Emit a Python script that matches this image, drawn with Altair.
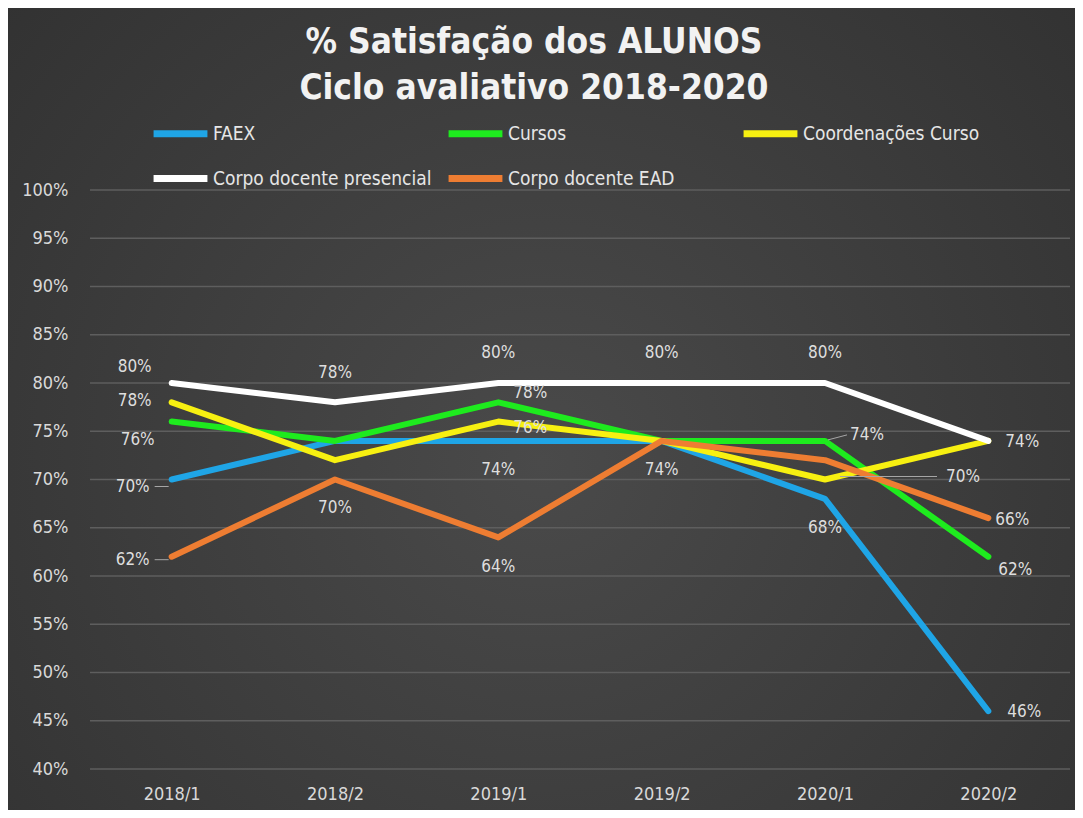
import json
import altair as alt
import pandas as pd

# ---------------- data ----------------
periods = ["2018/1", "2018/2", "2019/1", "2019/2", "2020/1", "2020/2"]
series_names = ["FAEX", "Cursos", "Coordenações Curso",
                "Corpo docente presencial", "Corpo docente EAD"]
faex = [70, 74, 74, 74, 68, 46]
cursos = [76, 74, 78, 74, 74, 62]
coordenacoes = [78, 72, 76, 74, 70, 74]
docente_presencial = [80, 78, 80, 80, 80, 74]
docente_ead = [62, 70, 64, 74, 72, 66]
y_ticks = [40, 45, 50, 55, 60, 65, 70, 75, 80, 85, 90, 95, 100]

series_values = [faex, cursos, coordenacoes, docente_presencial, docente_ead]
colors = ["#1FA5E6", "#1EEB1E", "#F7F011", "#FFFFFF", "#EE7D32"]

# which data labels are shown, with pixel offsets (styling only)
label_spec = [
    ("Corpo docente presencial", 0, -37, -16),
    ("Coordenações Curso", 0, -37, -1),
    ("Cursos", 0, -34, 18),
    ("FAEX", 0, -39, 7),
    ("Corpo docente EAD", 0, -39, 3),
    ("Corpo docente presencial", 1, 0, -29),
    ("Corpo docente EAD", 1, 0, 28),
    ("Corpo docente presencial", 2, 0, -30),
    ("Cursos", 2, 32, -9),
    ("Coordenações Curso", 2, 32, 6),
    ("FAEX", 2, 0, 29),
    ("Corpo docente EAD", 2, 0, 30),
    ("Corpo docente presencial", 3, 0, -30),
    ("FAEX", 3, 0, 29),
    ("Corpo docente presencial", 4, 0, -30),
    ("Cursos", 4, 42, -6),
    ("Coordenações Curso", 4, 138, -3),
    ("FAEX", 4, 0, 29),
    ("Corpo docente presencial", 5, 34, 1),
    ("Corpo docente EAD", 5, 24, 2),
    ("Cursos", 5, 27, 13),
    ("FAEX", 5, 36, 1),
]
# leader lines (series, period index, dx1, dy1, dx2, dy2) in pixels
leader_spec = [
    ("FAEX", 0, -17, 7, -3, 7),
    ("Corpo docente EAD", 0, -17, 3, -3, 3),
    ("Cursos", 4, 3, -1, 22, -6),
    ("Coordenações Curso", 4, 15, -3, 112, -3),
]

# ---------------- layout ----------------
W, H = 980, 579
PAD = {"left": 82, "right": 5, "top": 182, "bottom": 41}
Y_MIN, Y_MAX = 40, 100
STEP = W / len(periods)
PPU = H / (Y_MAX - Y_MIN)
FONT = "DejaVu Sans Condensed, Liberation Sans Narrow, sans-serif"

rows = []
for name, vals in zip(series_names, series_values):
    for i, v in enumerate(vals):
        rows.append({"serie": name, "idx": i, "periodo": periods[i], "valor": v})
df = pd.DataFrame(rows)

lookup = {(r["serie"], r["idx"]): r["valor"] for r in rows}
lab = pd.DataFrame([
    {"serie": s, "idx": i, "valor": lookup[(s, i)], "txt": f"{lookup[(s, i)]}%",
     "dx": dx, "dy": dy}
    for s, i, dx, dy in label_spec
])
lead = pd.DataFrame([
    {"serie": s, "idx": i, "valor": lookup[(s, i)],
     "dx1": a, "dy1": b, "dx2": c, "dy2": d}
    for s, i, a, b, c, d in leader_spec
])

x_scale = alt.Scale(domain=[-0.5, len(periods) - 0.5], nice=False, zero=False)
y_scale = alt.Scale(domain=[Y_MIN, Y_MAX], nice=False, zero=False)
color_scale = alt.Scale(domain=series_names, range=colors)

label_expr = json.dumps(periods) + "[datum.value]"

x_axis = alt.Axis(values=list(range(len(periods))), labelExpr=label_expr,
                  domain=False, ticks=False, grid=False, title=None,
                  labelFont=FONT, labelFontSize=18, labelColor="#d9d9d9",
                  labelPadding=16, zindex=1)
y_axis = alt.Axis(values=y_ticks, labelExpr="datum.value + '%'",
                  domain=False, ticks=False, grid=False, title=None,
                  labelFont=FONT, labelFontSize=18, labelColor="#d9d9d9",
                  labelPadding=22, zindex=1)

# background with radial gradient
bg = alt.Chart(pd.DataFrame({"k": [0]})).mark_rect(
    fill=alt.RadialGradient(
        gradient="radial",
        stops=[alt.GradientStop(color="#4a4a4a", offset=0),
               alt.GradientStop(color="#2f2f2f", offset=1)],
        x1=0.5, y1=0.55, x2=0.5, y2=0.55, r1=0, r2=0.75),
).encode(
    x=alt.value(-PAD["left"]), x2=alt.value(W + PAD["right"]),
    y=alt.value(-PAD["top"]), y2=alt.value(H + PAD["bottom"]),
)

grid = alt.Chart(pd.DataFrame({"t": y_ticks})).mark_rule(
    color="#5e5e5e", strokeWidth=1.5
).encode(
    x=alt.value(0), x2=alt.value(W),
    y=alt.Y("t:Q", scale=y_scale, axis=y_axis),
)

line_layers = []
for name in series_names:
    line_layers.append(
        alt.Chart(df).transform_filter(alt.datum.serie == name).mark_line(
            strokeWidth=6, strokeCap="round", strokeJoin="round"
        ).encode(
            x=alt.X("idx:Q", scale=x_scale, axis=x_axis),
            y=alt.Y("valor:Q", scale=y_scale, axis=y_axis),
            color=alt.Color(
                "serie:N", scale=color_scale,
                legend=alt.Legend(
                    title=None, orient="none", legendX=60, legendY=-87,
                    direction="horizontal", padding=0,
                    columns=3, gridAlign="all", columnPadding=2, rowPadding=0,
                    symbolType="stroke", symbolStrokeWidth=7, symbolSize=2900,
                    labelFont=FONT, labelFontSize=19, labelColor="#e6e6e6",
                    labelOffset=2, labelLimit=400,
                ),
            ),
        )
    )

leaders = alt.Chart(lead).transform_calculate(
    lx1=f"datum.idx + datum.dx1 / {STEP}",
    lx2=f"datum.idx + datum.dx2 / {STEP}",
    ly1=f"datum.valor - datum.dy1 / {PPU}",
    ly2=f"datum.valor - datum.dy2 / {PPU}",
).mark_rule(color="#a6a6a6", strokeWidth=1).encode(
    x=alt.X("lx1:Q", scale=x_scale), x2="lx2:Q",
    y=alt.Y("ly1:Q", scale=y_scale), y2="ly2:Q",
)

labels = alt.Chart(lab).transform_calculate(
    lx=f"datum.idx + datum.dx / {STEP}",
    ly=f"datum.valor - datum.dy / {PPU}",
).mark_text(
    font=FONT, fontSize=17, color="#dedede", align="center", baseline="middle"
).encode(
    x=alt.X("lx:Q", scale=x_scale),
    y=alt.Y("ly:Q", scale=y_scale),
    text="txt:N",
)

chart = alt.layer(bg, grid, *line_layers, leaders, labels).properties(
    width=W, height=H,
    autosize=alt.AutoSizeParams(type="none"),
    padding=PAD,
    background="#2f2f2f",
    title=alt.TitleParams(
        text=["% Satisfação dos ALUNOS", "Ciclo avaliativo 2018-2020"],
        font=FONT, fontSize=35, fontWeight="bold", color="#f2f2f2",
        lineHeight=46, anchor="middle", dx=-46, offset=-98,
    ),
).configure_view(stroke="transparent")

chart.save("out.html", embed_options={"renderer": "svg", "actions": False})
